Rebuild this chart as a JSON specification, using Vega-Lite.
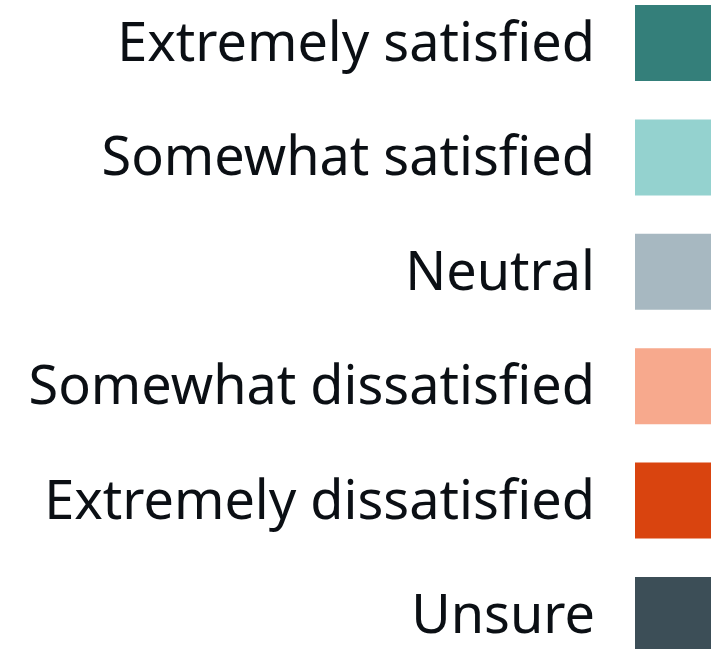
{
  "$schema": "https://vega.github.io/schema/vega-lite/v6.json",
  "width": 718,
  "height": 649,
  "padding": 0,
  "autosize": {"type": "none"},
  "background": "white",
  "config": {"view": {"stroke": null}},
  "data": {"values": [
    {"label": "Extremely satisfied", "order": 0, "color": "#347f7a"},
    {"label": "Somewhat satisfied", "order": 1, "color": "#94d2cf"},
    {"label": "Neutral", "order": 2, "color": "#a7b8c1"},
    {"label": "Somewhat dissatisfied", "order": 3, "color": "#f7a98d"},
    {"label": "Extremely dissatisfied", "order": 4, "color": "#d9440f"},
    {"label": "Unsure", "order": 5, "color": "#3c4e57"}
  ]},
  "encoding": {
    "y": {"field": "order", "type": "quantitative", "scale": {"domain": [-0.376, 5.297], "reverse": true, "nice": false, "zero": false}, "axis": null}
  },
  "layer": [
    {
      "mark": {"type": "square", "size": 5776, "opacity": 1, "filled": true},
      "encoding": {
        "x": {"datum": 673, "type": "quantitative", "scale": {"domain": [0, 718], "nice": false, "zero": false}, "axis": null},
        "color": {"field": "color", "type": "nominal", "scale": null, "legend": null}
      }
    },
    {
      "mark": {"type": "text", "align": "right", "baseline": "middle", "dy": 2, "font": "Noto Sans", "fontSize": 54, "color": "#0b0f14"},
      "encoding": {
        "x": {"datum": 595, "type": "quantitative"},
        "text": {"field": "label"}
      }
    }
  ]
}
